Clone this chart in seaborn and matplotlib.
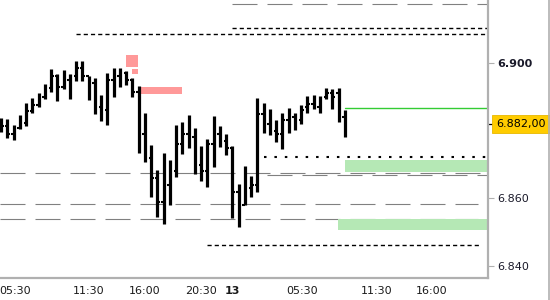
import matplotlib
matplotlib.use("Agg")
import matplotlib.pyplot as plt
import matplotlib.transforms as mtransforms
from matplotlib.lines import Line2D
from matplotlib.patches import Rectangle
import seaborn as sns
import numpy as np

# ---- data (half-hour OHLC bars) ----
highs = [6.8838, 6.8835, 6.8818, 6.8847, 6.8882, 6.8897, 6.8912, 6.8938, 6.8982, 6.8968,
         6.8979, 6.8968, 6.9006, 6.9006, 6.8962, 6.8956, 6.8906, 6.8971, 6.8985, 6.8985,
         6.8977, 6.8956, 6.8932, 6.8853, 6.8759, 6.8685, 6.8733, 6.8712, 6.8818, 6.8824,
         6.8847, 6.8809, 6.8756, 6.8774, 6.8844, 6.8815, 6.8791, 6.8756, 6.8644, 6.8697,
         6.8665, 6.8897, 6.8882, 6.8865, 6.8832, 6.8853, 6.8868, 6.8853, 6.8876, 6.8903,
         6.8906, 6.8903, 6.8927, 6.8924, 6.8927, 6.8862]
lows = [6.8797, 6.8779, 6.8771, 6.8806, 6.8815, 6.8853, 6.8871, 6.8894, 6.8915, 6.8888,
        6.8924, 6.8894, 6.8947, 6.8947, 6.8891, 6.8850, 6.8827, 6.8818, 6.8900, 6.8929,
        6.8935, 6.8900, 6.8735, 6.8706, 6.8603, 6.8544, 6.8524, 6.8582, 6.8662, 6.8730,
        6.8750, 6.8671, 6.8650, 6.8635, 6.8694, 6.8753, 6.8727, 6.8541, 6.8515, 6.8582,
        6.8603, 6.8618, 6.8794, 6.8788, 6.8765, 6.8747, 6.8794, 6.8803, 6.8821, 6.8853,
        6.8865, 6.8853, 6.8894, 6.8865, 6.8824, 6.8780]
opens = [6.8830, 6.8815, 6.8790, 6.8808, 6.8822, 6.8858, 6.8875, 6.8900, 6.8925, 6.8960,
         6.8930, 6.8950, 6.8960, 6.8985, 6.8960, 6.8940, 6.8870, 6.8860, 6.8950, 6.8960,
         6.8970, 6.8950, 6.8915, 6.8790, 6.8720, 6.8660, 6.8590, 6.8640, 6.8680, 6.8760,
         6.8790, 6.8780, 6.8700, 6.8680, 6.8760, 6.8790, 6.8770, 6.8750, 6.8620, 6.8580,
         6.8630, 6.8640, 6.8850, 6.8820, 6.8800, 6.8790, 6.8830, 6.8840, 6.8830, 6.8870,
         6.8880, 6.8870, 6.8900, 6.8910, 6.8910, 6.8840]
closes = [6.8815, 6.8790, 6.8800, 6.8822, 6.8858, 6.8875, 6.8900, 6.8925, 6.8960, 6.8930,
          6.8950, 6.8960, 6.8985, 6.8960, 6.8940, 6.8870, 6.8860, 6.8950, 6.8960, 6.8970,
          6.8950, 6.8915, 6.8790, 6.8720, 6.8660, 6.8590, 6.8640, 6.8680, 6.8760, 6.8790,
          6.8780, 6.8700, 6.8680, 6.8760, 6.8790, 6.8770, 6.8750, 6.8620, 6.8580, 6.8640,
          6.8640, 6.8850, 6.8820, 6.8840, 6.8790, 6.8830, 6.8850, 6.8820, 6.8860, 6.8880,
          6.8890, 6.8880, 6.8910, 6.8900, 6.8840, 6.8820]

x_tick_pos = [2.24, 14.08, 23.04, 32.0, 36.96, 48.16, 60.16, 68.96]
x_tick_labels = ["05:30", "11:30", "16:00", "20:30", "13", "05:30", "11:30", "16:00"]
x_minor_pos = [4.96, 39.52, 51.2]

y_tick_vals = [6.840, 6.860, 6.900]
y_tick_labels = ["6.840", "6.860", "6.900"]
last_price = 6.882
last_price_label = "6.882,00"

# level lines: (value, x start, x end)
gray_levels = [(6.9174, 36.96, 77.92), (6.8674, -0.16, 77.92), (6.8668, 42.6, 77.92),
               (6.8585, -0.16, 76.3), (6.8538, -0.16, 76.3)]
black_dashed_levels = [(6.9103, 36.96, 77.92), (6.9085, 12.0, 77.92), (6.8462, 33.0, 76.6)]
dotted_levels = [(6.8721, 42.1, 77.92)]
green_lines = [(6.8868, 55.0, 77.92)]
pink_zones = [(20.0, 21.92, 6.8988, 6.9024), (20.96, 21.92, 6.8968, 6.8982),
              (21.92, 29.0, 6.8909, 6.8929)]
green_zones = [(55.0, 77.92, 6.8679, 6.8712), (53.9, 77.92, 6.8506, 6.8538)]

# ---- plotting ----
sns.set_style("white")
plt.rcParams['font.family'] = ['DejaVu Sans']

fig = plt.figure(figsize=(5.5, 3.0), dpi=100)
ax = fig.add_axes([0.0, 0.073, 488 / 550, 1 - 0.073])

x = np.arange(len(highs))
ax.set_xlim(-0.16, 77.92)
ax.set_ylim(6.8365, 6.91853)

for v, x0, x1 in gray_levels:
    ax.plot([x0, x1], [v, v], color="#808080", lw=0.8, dashes=(22.5, 9), zorder=1)
for v, x0, x1 in black_dashed_levels:
    ax.plot([x0, x1], [v, v], color="black", lw=1.0, dashes=(3, 2.2), zorder=1)
for v, x0, x1 in dotted_levels:
    ax.plot([x0, x1], [v, v], color="black", lw=1.5, dashes=(1.2, 3.8), zorder=1)
for v, x0, x1 in green_lines:
    ax.plot([x0, x1], [v, v], color="#33CC33", lw=1.0, zorder=1)
for x0, x1, y0, y1 in pink_zones:
    ax.add_patch(Rectangle((x0, y0), x1 - x0, y1 - y0, facecolor="#FF9999",
                           edgecolor="none", zorder=1))
for x0, x1, y0, y1 in green_zones:
    ax.add_patch(Rectangle((x0, y0), x1 - x0, y1 - y0, facecolor="#B5E8B5",
                           edgecolor="none", zorder=1))

ax.vlines(x, lows, highs, color="black", lw=2.3, zorder=3)
ax.hlines(opens, x - 0.4, x, color="black", lw=1.5, zorder=3)
ax.hlines(closes, x, x + 0.4, color="black", lw=1.5, zorder=3)

# axes styling
for s in ["left", "top"]:
    ax.spines[s].set_visible(False)
for s in ["right", "bottom"]:
    ax.spines[s].set_visible(True)
    ax.spines[s].set_color("#B0B0B0")
    ax.spines[s].set_linewidth(1.6)

ax.set_xticks(x_tick_pos)
ax.set_xticklabels(x_tick_labels)
ax.set_xticks(x_minor_pos, minor=True)
ax.tick_params(axis="x", which="both", direction="out", length=4, width=0.8,
               color="#B0B0B0", labelsize=8, pad=2, labelcolor="#1a1a1a")
for lbl in ax.get_xticklabels():
    if lbl.get_text() == "13":
        lbl.set_fontweight("bold")

ax.yaxis.tick_right()
ax.set_yticks(y_tick_vals)
ax.set_yticklabels(y_tick_labels)
ax.tick_params(axis="y", direction="out", length=4, width=0.8, color="#B0B0B0",
               labelsize=8, pad=3, labelcolor="#1a1a2a")
for lbl in ax.get_yticklabels():
    if lbl.get_text() == "6.900":
        lbl.set_fontweight("bold")

# last price marker and label
trans = mtransforms.blended_transform_factory(ax.transAxes, ax.transData)
ax.plot([1.0, 1.012], [last_price, last_price], color="black", lw=0.9,
        transform=trans, clip_on=False)
ax.text(1.016, last_price, last_price_label, transform=trans, fontsize=8,
        va="center", ha="left", color="black",
        bbox=dict(boxstyle="square,pad=0.38", facecolor="#FFCC00",
                  edgecolor="#E8B800", linewidth=0.6), clip_on=False)

# outer right border line
fig.add_artist(Line2D([548.5 / 550, 548.5 / 550], [0, 1], color="#B0B0B0", lw=1.2))

fig.savefig("out.png", dpi=100)
